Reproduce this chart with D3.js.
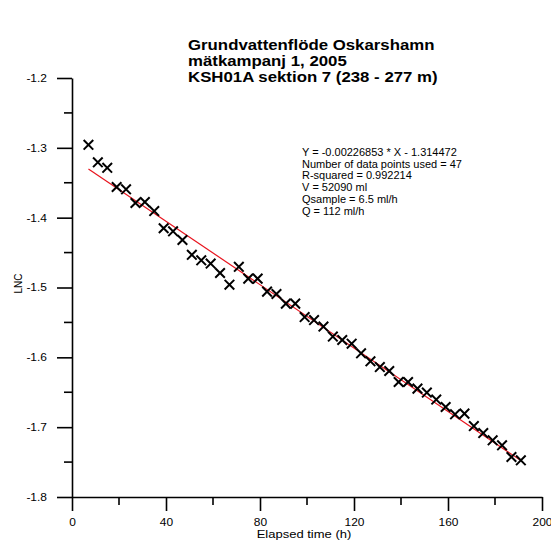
<!DOCTYPE html>
<html>
<head>
<meta charset="utf-8">
<script src="https://cdn.jsdelivr.net/npm/d3@7"></script>
<style>
  html, body { margin: 0; padding: 0; background: #fff; }
  svg { display: block; font-family: "Liberation Sans", Arial, sans-serif; }
</style>
</head>
<body>
<svg id="chart" width="551" height="540"></svg>
<script>
// Elapsed time (h) of each sample
const times = [7, 11, 15, 19, 23, 27, 31, 35, 39, 43,
               47, 51, 55, 59, 63, 67, 71, 75, 79, 83,
               87, 91, 95, 99, 103, 107, 111, 115, 119, 123,
               127, 131, 135, 139, 143, 147, 151, 155, 159, 163,
               167, 171, 175, 179, 183, 187, 191];
// ln(concentration) measured at each time
const lnc = [-1.2957, -1.3207, -1.3286, -1.3561, -1.3594, -1.3790, -1.3776, -1.3906, -1.4152, -1.4195,
             -1.4320, -1.4532, -1.4611, -1.4658, -1.4792, -1.4959, -1.4704, -1.4873, -1.4873, -1.5059,
             -1.5093, -1.5231, -1.5231, -1.5423, -1.5466, -1.5560, -1.5703, -1.5752, -1.5804, -1.5942,
             -1.6057, -1.6139, -1.6196, -1.6353, -1.6353, -1.6448, -1.6505, -1.6605, -1.6711, -1.6816,
             -1.6806, -1.6984, -1.7084, -1.7188, -1.7260, -1.7427, -1.7475];
// Fitted line Y = slope * X + intercept
const slope = -0.00226853;
const intercept = -1.314472;

const xTicks = [0, 40, 80, 120, 160, 200];
const xMinorTicks = [20, 60, 100, 140, 180];
const yTicks = [-1.2, -1.3, -1.4, -1.5, -1.6, -1.7, -1.8];
const yMinorTicks = [-1.25, -1.35, -1.45, -1.55, -1.65, -1.75];

const titleLines = ["Grundvattenflöde Oskarshamn", "mätkampanj 1, 2005", "KSH01A sektion 7 (238 - 277 m)"];
const statLines = ["Y = -0.00226853 * X - 1.314472",
                   "Number of data points used = 47",
                   "R-squared = 0.992214",
                   "V = 52090 ml",
                   "Qsample = 6.5 ml/h",
                   "Q = 112 ml/h"];

const svg = d3.select("#chart");
const x = d3.scaleLinear().domain([0, 200]).range([72, 542]);
const y = d3.scaleLinear().domain([-1.8, -1.2]).range([497, 78]);

// Widen text glyphs horizontally by a factor (the plot uses a broad sans face)
function widen(sel, factor) {
  sel.each(function () {
    const w = this.getComputedTextLength();
    d3.select(this).attr("textLength", w * factor).attr("lengthAdjust", "spacingAndGlyphs");
  });
}

// Title
const title = svg.append("g").selectAll("text").data(titleLines).join("text")
  .attr("x", 188).attr("y", (d, i) => 50 + i * 16)
  .attr("font-size", 15).attr("font-weight", "bold").attr("fill", "#000")
  .text(d => d);
widen(title, 1.12);

// Regression summary
svg.append("g").selectAll("text").data(statLines).join("text")
  .attr("x", 302).attr("y", (d, i) => 156 + i * 11.7)
  .attr("font-size", 11).attr("fill", "#000")
  .text(d => d);

// X axis
const xAxis = svg.append("g").attr("transform", `translate(0,${y(-1.8)})`)
  .call(d3.axisBottom(x).tickValues(xTicks).tickSize(14).tickSizeOuter(0).tickPadding(4).tickFormat(d => String(d)));
xAxis.append("g").selectAll("line").data(xMinorTicks).join("line")
  .attr("x1", d => x(d)).attr("x2", d => x(d)).attr("y1", 0).attr("y2", 8);

// Y axis (plain hyphen for the minus sign)
const yAxis = svg.append("g").attr("transform", `translate(${x(0)},0)`)
  .call(d3.axisLeft(y).tickValues(yTicks).tickSize(15).tickSizeOuter(0).tickPadding(10).tickFormat(d => d.toFixed(1)));
yAxis.append("g").selectAll("line").data(yMinorTicks).join("line")
  .attr("x1", -8).attr("x2", 0).attr("y1", d => y(d)).attr("y2", d => y(d));

[xAxis, yAxis].forEach(g => {
  g.selectAll("path.domain").attr("stroke", "#000").attr("stroke-width", 1.6);
  g.selectAll("line").attr("stroke", "#000").attr("stroke-width", 1.6);
  g.selectAll("text").attr("font-size", 10.5).attr("fill", "#000")
    .attr("font-family", "'Liberation Sans', Arial, sans-serif");
});
xAxis.selectAll(".tick text").attr("dy", "1.05em");
widen(xAxis.selectAll(".tick text"), 1.14);
widen(yAxis.selectAll(".tick text"), 1.14);

// Axis titles
const xTitle = svg.append("text")
  .attr("x", (x(0) + x(200)) / 2 - 3).attr("y", 538)
  .attr("text-anchor", "middle").attr("font-size", 10).attr("fill", "#000")
  .text("Elapsed time (h)");
widen(xTitle, 1.3);
svg.append("text")
  .attr("transform", `translate(22,${y(-1.5) - 4}) rotate(-90)`)
  .attr("text-anchor", "middle").attr("font-size", 10).attr("fill", "#000")
  .text("LNC");

// Fitted line across the sampled range
const t0 = d3.min(times), t1 = d3.max(times);
svg.append("line")
  .attr("x1", x(t0)).attr("y1", y(slope * t0 + intercept))
  .attr("x2", x(t1)).attr("y2", y(slope * t1 + intercept))
  .attr("stroke", "#e8141e").attr("stroke-width", 1.2);

// Sample markers
const s = 4.8;
svg.append("g").selectAll("path").data(times.map((t, i) => [t, lnc[i]])).join("path")
  .attr("d", d => {
    const cx = x(d[0]), cy = y(d[1]);
    return `M${cx - s},${cy - s}L${cx + s},${cy + s}M${cx - s},${cy + s}L${cx + s},${cy - s}`;
  })
  .attr("stroke", "#000").attr("stroke-width", 2).attr("fill", "none");
</script>
</body>
</html>
